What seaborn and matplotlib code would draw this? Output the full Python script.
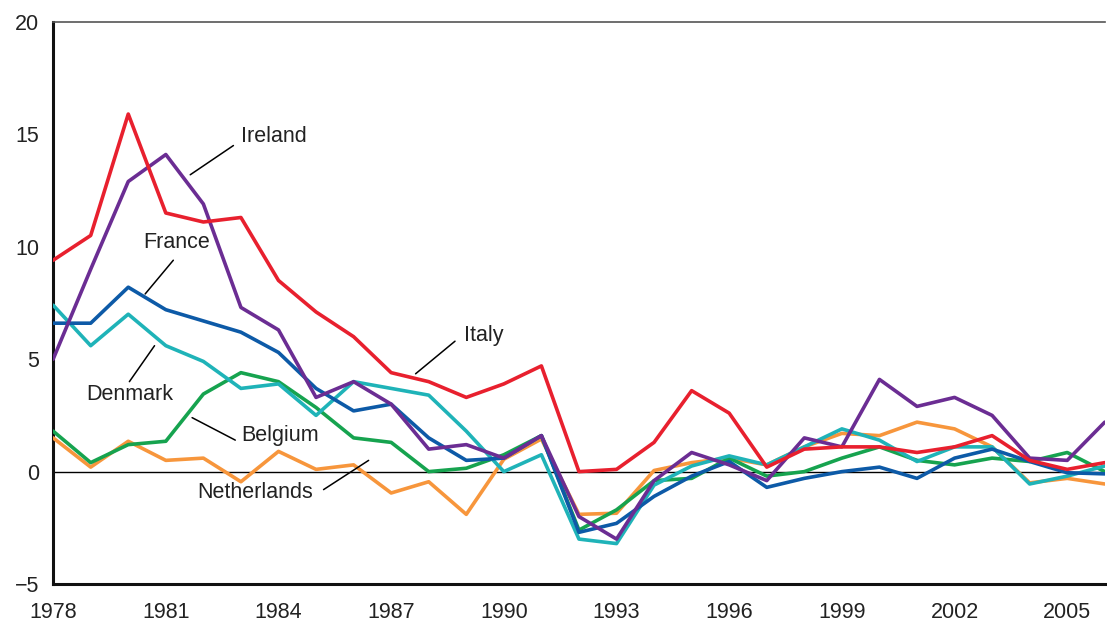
import matplotlib
matplotlib.use("Agg")
import matplotlib.pyplot as plt
import seaborn as sns
import pandas as pd

years = list(range(1978, 2007))

netherlands = [1.5, 0.2, 1.35, 0.5, 0.6, -0.45, 0.9, 0.1, 0.3, -0.95, -0.45, -1.9, 0.55, 1.45,
               -1.9, -1.85, 0.05, 0.4, 0.6, 0.3, 1.1, 1.7, 1.6, 2.2, 1.9, 1.1, -0.5, -0.3, -0.55]
belgium = [1.8, 0.4, 1.2, 1.35, 3.45, 4.4, 4.0, 2.85, 1.5, 1.3, 0.0, 0.15, 0.75, 1.6,
           -2.6, -1.7, -0.4, -0.3, 0.6, -0.2, 0.0, 0.6, 1.1, 0.5, 0.3, 0.6, 0.45, 0.85, 0.0]
denmark = [7.4, 5.6, 7.0, 5.6, 4.9, 3.7, 3.9, 2.5, 4.0, 3.7, 3.4, 1.8, 0.0, 0.75,
           -3.0, -3.2, -0.6, 0.25, 0.7, 0.3, 1.1, 1.9, 1.4, 0.45, 1.1, 1.1, -0.55, -0.2, 0.25]
france = [6.6, 6.6, 8.2, 7.2, 6.7, 6.2, 5.3, 3.7, 2.7, 3.0, 1.5, 0.5, 0.6, 1.6,
          -2.7, -2.3, -1.1, -0.2, 0.45, -0.7, -0.3, 0.0, 0.2, -0.3, 0.6, 1.0, 0.45, -0.05, -0.1]
ireland = [5.0, 9.0, 12.9, 14.1, 11.9, 7.3, 6.3, 3.3, 4.0, 3.0, 1.0, 1.2, 0.6, 1.6,
           -2.0, -3.0, -0.4, 0.85, 0.3, -0.4, 1.5, 1.1, 4.1, 2.9, 3.3, 2.5, 0.6, 0.5, 2.2]
italy = [9.4, 10.5, 15.9, 11.5, 11.1, 11.3, 8.5, 7.1, 6.0, 4.4, 4.0, 3.3, 3.9, 4.7,
         0.0, 0.1, 1.3, 3.6, 2.6, 0.2, 1.0, 1.1, 1.1, 0.85, 1.1, 1.6, 0.5, 0.1, 0.4]

countries = ["Netherlands", "Belgium", "Denmark", "France", "Ireland", "Italy"]
series = [netherlands, belgium, denmark, france, ireland, italy]
colors = {"Netherlands": "#F7963C", "Belgium": "#16A34F", "Denmark": "#1FB3B8",
          "France": "#0D5AA7", "Ireland": "#6B2D93", "Italy": "#E8202E"}

rows = []
for c, vals in zip(countries, series):
    for y, v in zip(years, vals):
        rows.append({"year": y, "value": v, "country": c})
df = pd.DataFrame(rows)

sns.set_style("white")
plt.rcParams["font.family"] = ["Liberation Sans", "DejaVu Sans"]

fig = plt.figure(figsize=(11.07, 6.24), dpi=100)
ax = fig.add_axes([0.048, 0.064, 0.950, 0.901])

ax.axhline(0, color="black", lw=1.0, zorder=1)
sns.lineplot(data=df, x="year", y="value", hue="country", hue_order=countries,
             palette=colors, lw=2.6, legend=False, ax=ax, zorder=3)

ax.set_xlim(1978, 2006)
ax.set_ylim(-5, 20)
ax.set_xticks(range(1978, 2007))
ax.set_xticklabels([str(y) if (y - 1978) % 3 == 0 else "" for y in range(1978, 2007)])
ax.set_yticks([-5, 0, 5, 10, 15, 20])
ax.set_yticklabels(["\u22125", "0", "5", "10", "15", "20"])
ax.set_xlabel("")
ax.set_ylabel("")
ax.spines["right"].set_visible(False)
ax.spines["top"].set_linewidth(1.2)
ax.spines["top"].set_color("#555555")
for s in ["left", "bottom"]:
    ax.spines[s].set_linewidth(2.2)
    ax.spines[s].set_color("#111111")
ax.tick_params(axis="both", direction="out", length=7, width=1.0, colors="#222222",
               labelsize=15.5, pad=3)
ax.tick_params(axis="x", pad=6)
ax.grid(False)

# labels with leader lines (data coordinates)
labels = [
    ("Ireland", (1983.0, 14.9), (1981.65, 13.2), (1982.8, 14.5), "left"),
    ("France", (1981.3, 10.2), (1980.45, 7.9), (1981.2, 9.4), "center"),
    ("Denmark", (1980.05, 3.45), (1980.03, 4.0), (1980.7, 5.6), "center"),
    ("Belgium", (1983.0, 1.6), (1981.7, 2.4), (1982.85, 1.4), "left"),
    ("Netherlands", (1981.85, -0.95), (1985.2, -0.8), (1986.4, 0.5), "left"),
    ("Italy", (1988.95, 6.05), (1987.65, 4.35), (1988.7, 5.8), "left"),
]
for txt, pos, p1, p2, ha in labels:
    ax.plot([p1[0], p2[0]], [p1[1], p2[1]], color="black", lw=1.1, zorder=4)
    ax.text(pos[0], pos[1], txt, ha=ha, va="center", fontsize=15.5, color="#222222", zorder=5)

fig.savefig("out.png", dpi=100)
